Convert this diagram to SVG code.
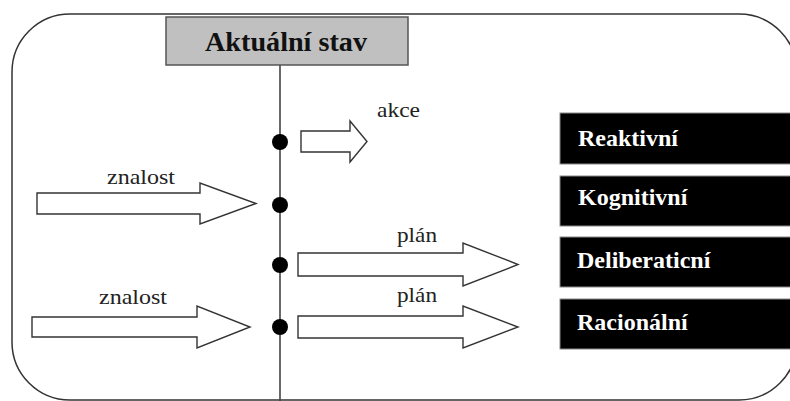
<svg xmlns="http://www.w3.org/2000/svg" width="790" height="401" viewBox="0 0 790 401">
<style>
.frame{fill:none;stroke:#333;stroke-width:1.5}
.arrow{fill:#fff;stroke:#333;stroke-width:1.4;stroke-linejoin:miter}
.lbl{font-family:"Liberation Serif","Times New Roman",serif;font-size:21px;fill:#222}
.box{fill:#000;stroke:#888;stroke-width:1}
.boxt{font-family:"Liberation Serif","Times New Roman",serif;font-size:24px;font-weight:bold;fill:#fff}
.dot{fill:#000}
</style>
<rect class="frame" x="12" y="14" width="785" height="386" rx="58" ry="58"/>
<g id="connectors">
<line x1="280" y1="65" x2="280" y2="401" stroke="#444" stroke-width="1.6"/>
<polygon class="arrow" points="301,131 350,131 350,121 367,141.5 350,162 350,152 301,152"/>
<polygon class="arrow" points="37,193 200,193 200,183 256,203.5 200,224 200,214 37,214"/>
<polygon class="arrow" points="32,317 197,317 197,306 250,327 197,348 197,337 32,337"/>
<polygon class="arrow" points="298,253 463,253 463,243 518,264.5 463,286 463,276 298,276"/>
<polygon class="arrow" points="298,316 463,316 463,306 518,327 463,348 463,338 298,338"/>
<text class="lbl" x="377" y="117" textLength="43" lengthAdjust="spacingAndGlyphs">akce</text>
<text class="lbl" x="107" y="184" textLength="68" lengthAdjust="spacingAndGlyphs">znalost</text>
<text class="lbl" x="99" y="304" textLength="68" lengthAdjust="spacingAndGlyphs">znalost</text>
<text class="lbl" x="397" y="242" textLength="40" lengthAdjust="spacingAndGlyphs">plán</text>
<text class="lbl" x="397" y="302" textLength="40" lengthAdjust="spacingAndGlyphs">plán</text>
</g>
<g id="header">
<rect x="166" y="17" width="242" height="48" fill="#c0c0c0" stroke="#555" stroke-width="1.5"/>
<text x="205" y="51" font-family="Liberation Serif,'Times New Roman',serif" font-size="27" font-weight="bold" fill="#111" textLength="162" lengthAdjust="spacingAndGlyphs">Aktuální stav</text>
</g>
<g id="dots">
<circle class="dot" cx="280" cy="142" r="8"/>
<circle class="dot" cx="280" cy="205" r="8"/>
<circle class="dot" cx="280" cy="265" r="8"/>
<circle class="dot" cx="280" cy="327" r="8"/>
</g>
<g id="reaktivni">
<rect class="box" x="560" y="113" width="240" height="51"/>
<text class="boxt" x="578" y="146">Reaktivní</text>
</g>
<g id="kognitivni">
<rect class="box" x="560" y="176" width="240" height="50"/>
<text class="boxt" x="578" y="205">Kognitivní</text>
</g>
<g id="deliberacni">
<rect class="box" x="560" y="237" width="240" height="50"/>
<text class="boxt" x="577" y="268">Deliberaticní</text>
</g>
<g id="racionalni">
<rect class="box" x="560" y="299" width="240" height="50"/>
<text class="boxt" x="577" y="330">Racionální</text>
</g>
</svg>
